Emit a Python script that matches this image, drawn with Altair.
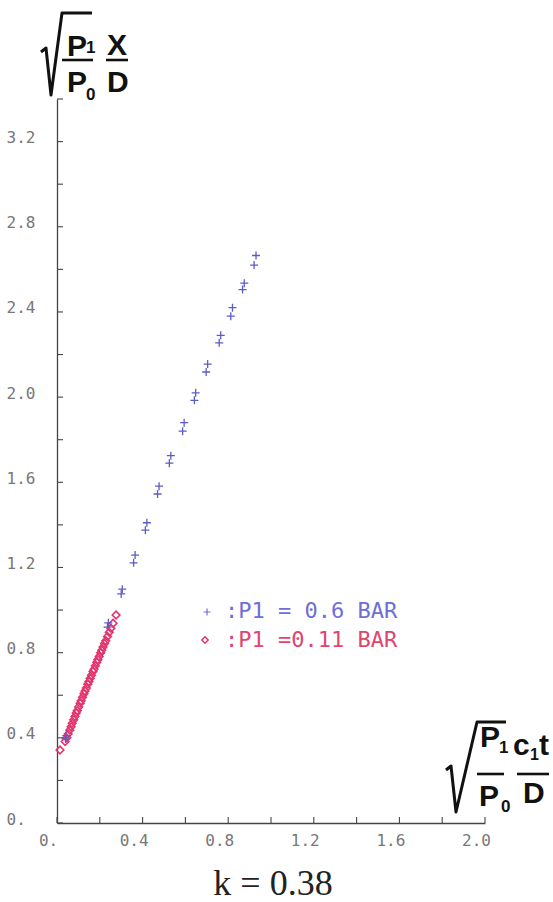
import altair as alt
import pandas as pd

# ---------------- data ----------------
blue_x = [0.930, 0.921, 0.875, 0.867, 0.820, 0.812, 0.765, 0.758, 0.704, 0.697,
          0.648, 0.642, 0.594, 0.587, 0.532, 0.525, 0.477, 0.470, 0.420, 0.413,
          0.365, 0.358, 0.305, 0.300, 0.240, 0.236, 0.043, 0.040]
blue_y = [2.665, 2.620, 2.535, 2.505, 2.420, 2.380, 2.290, 2.255, 2.155, 2.118,
          2.020, 1.985, 1.880, 1.840, 1.725, 1.690, 1.582, 1.545, 1.410, 1.375,
          1.258, 1.222, 1.098, 1.076, 0.940, 0.920, 0.410, 0.395]

red_x = [0.014, 0.038, 0.046, 0.052, 0.060, 0.066, 0.071, 0.078, 0.084, 0.090,
         0.095, 0.101, 0.108, 0.113, 0.119, 0.126, 0.131, 0.137, 0.144, 0.149,
         0.155, 0.161, 0.168, 0.173, 0.179, 0.186, 0.191, 0.197, 0.204, 0.209,
         0.215, 0.222, 0.228, 0.236, 0.244, 0.252, 0.262, 0.276]
red_y = [0.343, 0.383, 0.400, 0.418, 0.436, 0.452, 0.468, 0.485, 0.500, 0.517,
         0.528, 0.545, 0.562, 0.574, 0.590, 0.607, 0.620, 0.634, 0.652, 0.664,
         0.679, 0.694, 0.711, 0.722, 0.738, 0.755, 0.767, 0.782, 0.799, 0.811,
         0.826, 0.843, 0.856, 0.876, 0.896, 0.914, 0.938, 0.977]

x_ticks = [0.0, 0.2, 0.4, 0.6, 0.8, 1.0, 1.2, 1.4, 1.6, 1.8, 2.0]
y_ticks = [0.0, 0.2, 0.4, 0.6, 0.8, 1.0, 1.2, 1.4, 1.6, 1.8, 2.0,
           2.2, 2.4, 2.6, 2.8, 3.0, 3.2, 3.4]

legend_labels = [":P1 = 0.6 BAR", ":P1 =0.11 BAR"]
caption = "k = 0.38"

# ---------------- styling ----------------
W, H = 428, 724
BLUE = "#5c5cc8"
BLUE_TXT = "#6e6ed6"
RED = "#e3336c"
RED_TXT = "#e04470"
AXIS = "#444444"
INK = "#111111"
TICKFONT = "DejaVu Sans Mono"
FORMULA = "Liberation Sans"

CROSS = "M-1,0L1,0M0,-1L0,1"

xscale = alt.Scale(domain=[0, 2.0], nice=False, zero=False)
yscale = alt.Scale(domain=[0, 3.4], nice=False, zero=False)

label_expr = ("round(datum.value*10) % 4 == 0 ? "
              "(datum.value == 0 ? '0.' : format(datum.value, '.1f')) : ''")

xaxis = alt.Axis(values=x_ticks, labelExpr=label_expr, grid=False, ticks=False,
                 tickSize=0, domainColor=AXIS, domainWidth=1.3,
                 labelFont=TICKFONT, labelFontSize=16, labelColor="#777777",
                 labelPadding=9, labelOffset=-9, labelFlush=False,
                 labelOverlap=False, labelBound=False, title=None)
yaxis = alt.Axis(values=y_ticks, labelExpr=label_expr, grid=False, ticks=False,
                 tickSize=0, domainColor=AXIS, domainWidth=1.3,
                 labelFont=TICKFONT, labelFontSize=16, labelColor="#777777",
                 labelPadding=51, labelAlign="left", labelOffset=-4,
                 labelFlush=False, labelOverlap=False, labelBound=False,
                 title=None)

red_df = pd.DataFrame({"x": red_x, "y": red_y})
blue_df = pd.DataFrame({"x": blue_x, "y": blue_y})

red_layer = alt.Chart(red_df).mark_point(
    shape="diamond", filled=False, size=58, stroke=RED, strokeWidth=1.6, opacity=1
).encode(
    x=alt.X("x:Q", scale=xscale, axis=xaxis),
    y=alt.Y("y:Q", scale=yscale, axis=yaxis),
)

blue_layer = alt.Chart(blue_df).mark_point(
    shape=CROSS, filled=False, size=64, stroke=BLUE, strokeWidth=1.3, opacity=1
).encode(
    x=alt.X("x:Q", scale=xscale, axis=xaxis),
    y=alt.Y("y:Q", scale=yscale, axis=yaxis),
)

# inward axis ticks, positioned by the scales
xt_df = pd.DataFrame({"x": x_ticks})
yt_df = pd.DataFrame({"y": y_ticks})
xtick_layer = alt.Chart(xt_df).mark_rule(color=AXIS, strokeWidth=1.1).encode(
    x=alt.X("x:Q", scale=xscale, axis=xaxis),
    y=alt.value(H), y2=alt.value(H - 6),
)
ytick_layer = alt.Chart(yt_df).mark_rule(color=AXIS, strokeWidth=1.1).encode(
    y=alt.Y("y:Q", scale=yscale, axis=yaxis),
    x=alt.value(0), x2=alt.value(6),
)

anchor = pd.DataFrame({"a": [0]})


def txt(s, x, y, size, font=FORMULA, weight="bold", color=INK,
        align="left", baseline="alphabetic"):
    return alt.Chart(anchor).mark_text(
        text=s, font=font, fontSize=size, fontWeight=weight, color=color,
        align=align, baseline=baseline
    ).encode(x=alt.value(x), y=alt.value(y))


def bar(x1, x2, y, w=2.6):
    return alt.Chart(anchor).mark_rule(color=INK, strokeWidth=w).encode(
        x=alt.value(x1), x2=alt.value(x2), y=alt.value(y))


def radical(path):
    return alt.Chart(anchor).mark_point(
        shape=path, size=4, filled=False, stroke=INK, strokeWidth=3,
        strokeJoin="round", opacity=1
    ).encode(x=alt.value(0), y=alt.value(0))


# y-axis title:  sqrt(P1/P0) X/D
ytitle = [
    radical("M-16,-47L-11,-51L-6,-4L5,-86L35,-86"),
    txt("P", 10, -43, 30),
    txt("1", 29, -46, 17),
    bar(5, 36, -39),
    txt("P", 10, -7, 30),
    txt("0", 29, 1, 17),
    txt("X", 50, -44, 30),
    bar(49, 71, -39),
    txt("D", 50, -7, 30),
]

# x-axis title:  sqrt(P1/P0) c1t/D
xtitle = [
    radical("M389,671L394,667L399,713L420,623L449,623"),
    txt("P", 423, 648, 30),
    txt("1", 442, 654, 17),
    bar(420, 447, 675),
    txt("P", 422, 707, 30),
    txt("0", 444, 713, 17),
    txt("c", 456, 656, 30),
    txt("1", 473, 661, 16),
    txt("t", 482, 656, 30),
    bar(460, 492, 675),
    txt("D", 466, 704, 30),
]

# legend
legend = [
    alt.Chart(anchor).mark_point(shape=CROSS, filled=False, size=49, stroke=BLUE_TXT,
                                 strokeWidth=1.2, opacity=1
                                 ).encode(x=alt.value(150), y=alt.value(513)),
    txt(legend_labels[0], 168, 512, 22, font=TICKFONT, weight="normal",
        color=BLUE_TXT, baseline="middle"),
    alt.Chart(anchor).mark_point(shape="diamond", filled=False, size=40, stroke=RED,
                                 strokeWidth=1.5, opacity=1
                                 ).encode(x=alt.value(148), y=alt.value(541)),
    txt(legend_labels[1], 168, 541, 22, font=TICKFONT, weight="normal",
        color=RED_TXT, baseline="middle"),
]

cap = txt(caption, 216, 796, 36, font="Liberation Serif", weight="normal",
          color="#222222", align="center")

chart = alt.layer(
    red_layer, blue_layer, xtick_layer, ytick_layer, *ytitle, *xtitle, *legend, cap
).properties(
    width=W, height=H,
    padding={"left": 57, "top": 99, "right": 68, "bottom": 79},
    autosize=alt.AutoSizeParams(type="none"),
    background="white",
).configure_view(strokeWidth=0)

chart.save("out.html", embed_options={"renderer": "svg", "actions": False})
